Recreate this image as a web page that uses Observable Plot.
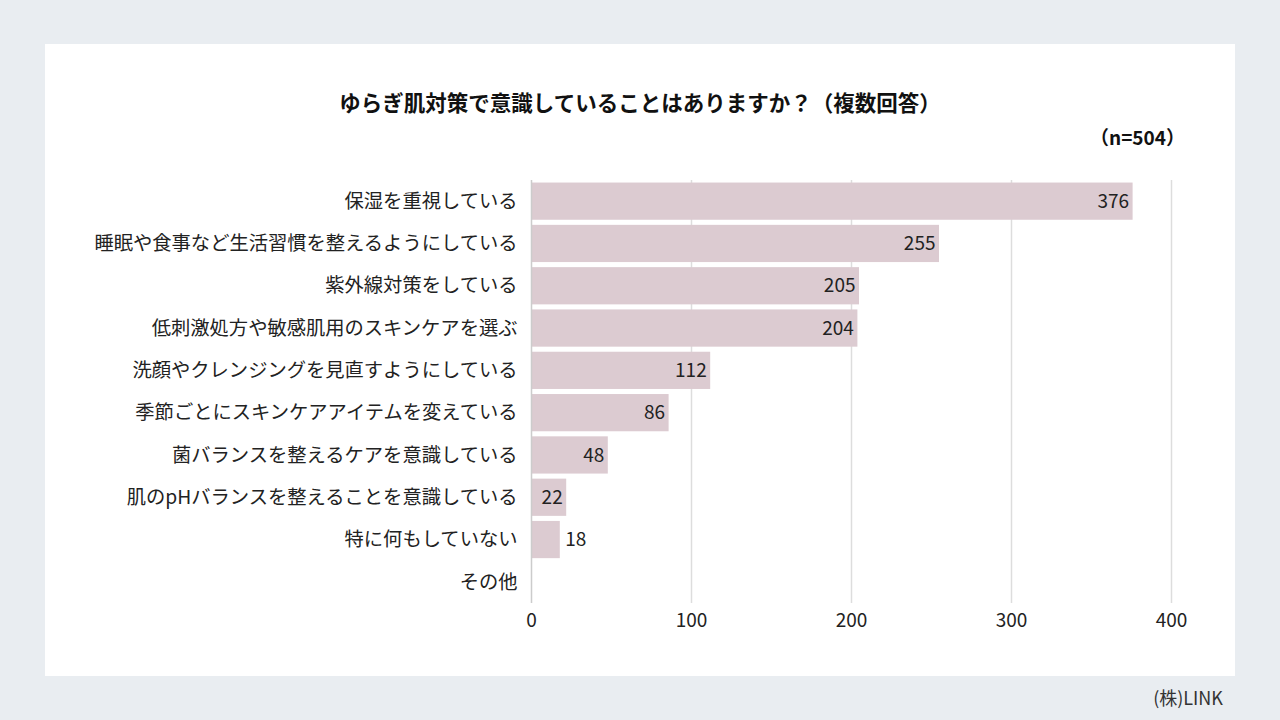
<!DOCTYPE html>
<html><head><meta charset="utf-8">
<script src="https://cdn.jsdelivr.net/npm/d3@7"></script>
<script src="https://cdn.jsdelivr.net/npm/@observablehq/plot@0.6"></script>
<style>
html,body{margin:0;padding:0;}
body{width:1280px;height:720px;background:#e9edf1;position:relative;overflow:hidden;font-family:"Noto Sans CJK JP","Noto Sans",sans-serif;color:#222;}
#panel{position:absolute;left:45px;top:44px;width:1190px;height:632px;background:#fff;}
#title{position:absolute;left:0;top:86px;width:1280px;text-align:center;font-weight:bold;font-size:21.5px;line-height:32px;color:#111;}
#n{position:absolute;right:95px;top:122px;font-weight:bold;font-size:19px;line-height:30px;color:#111;}
#chart{position:absolute;left:0;top:160px;}
#credit{position:absolute;right:57px;top:682px;font-size:18px;line-height:30px;color:#333;}
</style></head>
<body>
<div id="panel"></div>
<div id="title">ゆらぎ肌対策で意識していることはありますか？（複数回答）</div>
<div id="n">（n=504）</div>
<div id="chart"></div>
<div id="credit">(株)LINK</div>
<script>
const categories = ["保湿を重視している","睡眠や食事など生活習慣を整えるようにしている","紫外線対策をしている","低刺激処方や敏感肌用のスキンケアを選ぶ","洗顔やクレンジングを見直すようにしている","季節ごとにスキンケアアイテムを変えている","菌バランスを整えるケアを意識している","肌のpHバランスを整えることを意識している","特に何もしていない","その他"];
const values = [376,255,205,204,112,86,48,22,18,0];
const xTicks = [0,100,200,300,400];
const data = categories.map((c,i)=>({cat:c, v:values[i]}));
const inside = data.filter(d=>d.v>=20);
const outside = data.filter(d=>d.v>0 && d.v<20);
const chart = Plot.plot({
  width:1280, height:484,
  marginLeft:531, marginRight:109, marginTop:20, marginBottom:41,
  style:{fontFamily:'"Noto Sans CJK JP","Noto Sans",sans-serif', background:"transparent"},
  x:{domain:[0,400], ticks:xTicks, label:null},
  y:{domain:categories, label:null, paddingInner:0.12, paddingOuter:0.06, round:false},
  marks:[
    Plot.ruleX(xTicks.filter(t=>t>0), {stroke:"#dddddd", strokeWidth:1.5}),
    Plot.barX(data, {y:"cat", x:"v", fill:"#dccbd1"}),
    Plot.ruleX([0], {stroke:"#cccccc", strokeWidth:1.5}),
    Plot.text(inside, {y:"cat", x:"v", text:d=>String(d.v), textAnchor:"end", dx:-4, fontSize:19, fill:"#222"}),
    Plot.text(outside, {y:"cat", x:"v", text:d=>String(d.v), textAnchor:"start", dx:5, fontSize:19, fill:"#222"}),
    Plot.axisY({tickSize:0, tickPadding:14, fontSize:19.3, label:null, color:"#222"}),
    Plot.axisX({ticks:xTicks, tickSize:0, tickPadding:10, fontSize:19, label:null, color:"#222"})
  ]
});
document.getElementById("chart").appendChild(chart);
</script>
</body></html>
